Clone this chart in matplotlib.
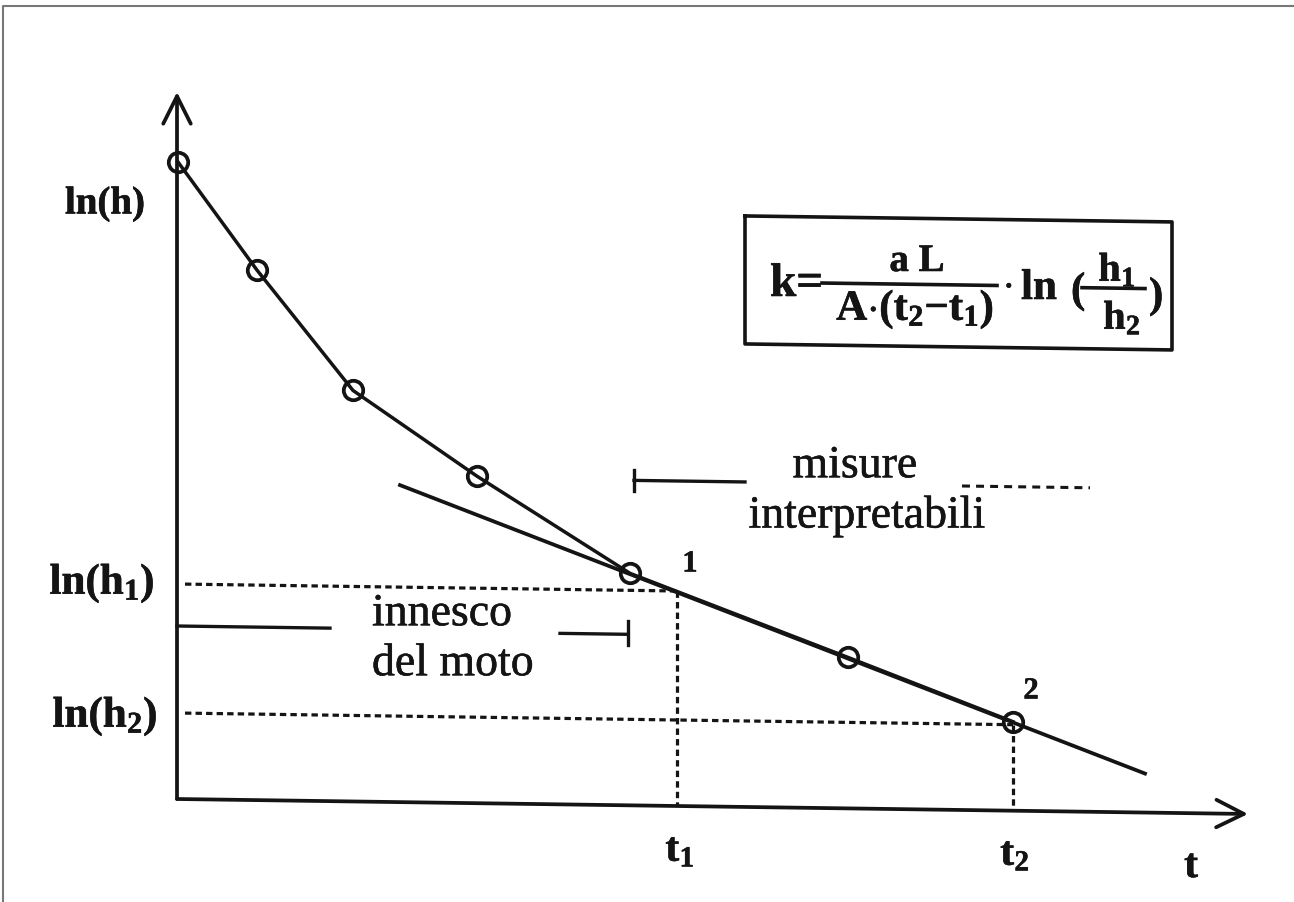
import matplotlib
matplotlib.use('Agg')
import matplotlib.pyplot as plt
import matplotlib.patheffects as pe
from matplotlib.transforms import Affine2D

plt.rcParams['font.family'] = ['Liberation Serif', 'DejaVu Serif']
plt.rcParams['mathtext.fontset'] = 'custom'
plt.rcParams['mathtext.rm'] = 'Liberation Serif'
plt.rcParams['mathtext.it'] = 'Liberation Serif:italic'
plt.rcParams['mathtext.bf'] = 'Liberation Serif:bold'

# misure (t, ln h)
t = [1, 80, 176, 300, 453, 671, 836]
lnh = [637, 530, 411, 327, 232, 151, 89]

# retta interpolante
fit_t = [223, 968]
fit_lnh = [317, 39]

# punti 1 e 2
t1, t2 = 500, 836
lnh1, lnh2 = 215, 86

# intervalli "innesco del moto" e "misure interpretabili"
innesco_left = [0, 153]
innesco_right = [383, 451]
misure_left = [457, 568]
misure_right = [785, 913]

ink = '#141414'
thick = [pe.withStroke(linewidth=0.4, foreground=ink)]

fig = plt.figure(figsize=(12.94, 9.03), dpi=100)
ax = fig.add_axes([0, 0, 1, 1])
ax.set_xlim(-177, 1117)
ax.set_ylim(-103, 800)
ax.axis('off')

# il foglio e' leggermente storto
sk = Affine2D.from_values(1, -0.014, 0, 1, 0, 0) + ax.transData

# assi con freccia
arrow = dict(arrowstyle='->,head_length=0.9,head_width=0.45', lw=2.7,
             color=ink, mutation_scale=22, shrinkA=0, shrinkB=0)
ax.annotate('', xy=(0, 707), xytext=(0, 0), xycoords=sk, textcoords=sk,
            arrowprops=arrow)
ax.annotate('', xy=(1071, 0), xytext=(0, 0), xycoords=sk, textcoords=sk,
            arrowprops=arrow)

# linee tratteggiate
dash = dict(color=ink, lw=2.3, ls=(0, (2.0, 1.3)), transform=sk)
ax.plot([8, t1], [lnh1, lnh1], **dash)
ax.plot([8, t2], [lnh2, lnh2], **dash)
ax.plot([t1, t1], [lnh1, 0], **dash)
ax.plot([t2, t2], [lnh2, 0], **dash)

# retta e misure
ax.plot(fit_t, fit_lnh, color=ink, lw=2.7, transform=sk)
ax.plot(t, lnh, '-o', color=ink, lw=2.5, ms=14, mfc='none', mew=2.7,
        transform=sk)

# intervalli
ax.plot(innesco_left, [173, 173], color=ink, lw=2.4, transform=sk)
ax.plot(innesco_right, [171, 171], color=ink, lw=2.4, transform=sk)
ax.plot([innesco_right[1]] * 2, [160, 184], color=ink, lw=2.4, transform=sk)
ax.plot(misure_left, [325, 325], color=ink, lw=2.4, transform=sk)
ax.plot([misure_left[0]] * 2, [314, 335], color=ink, lw=2.4, transform=sk)
ax.plot(misure_right, [324, 324], color=ink, lw=2.2, ls=(0, (2.6, 2.0)),
        transform=sk)

# riquadro della formula
ax.plot([568, 995, 995, 568, 568], [591, 591, 463, 463, 591], color=ink,
        lw=2.6, transform=sk)
# k = aL / (A (t2 - t1)) * ln(h1 / h2)
ax.plot([645, 820], [525, 525], color=ink, lw=2.6, transform=sk)
ax.plot([905, 968], [524, 524], color=ink, lw=2.6, transform=sk)
bf = dict(color=ink, fontweight='bold', path_effects=thick)
ax.text(593, 503, 'k=', fontsize=34, ha='left', va='baseline', **bf)
ax.text(740, 528, 'a L', fontsize=28, ha='center', va='baseline', **bf)
ax.text(738, 479, r'$\mathbf{A{\cdot}(t_2{-}t_1)}$', fontsize=31,
        ha='center', va='baseline', **bf)
ax.text(826, 503, r'$\mathbf{\cdot}$', fontsize=30, ha='left',
        va='baseline', **bf)
ax.text(844, 500, 'ln', fontsize=31, ha='left', va='baseline', **bf)
ax.text(894, 497, '(', fontsize=31, ha='left', va='baseline', **bf)
ax.text(940, 518, r'$\mathbf{h_1}$', fontsize=29, ha='center',
        va='baseline', **bf)
ax.text(945, 470, r'$\mathbf{h_2}$', fontsize=29, ha='center',
        va='baseline', **bf)
ax.text(972, 492, ')', fontsize=31, ha='left', va='baseline', **bf)

lab = dict(color=ink, fontweight='bold', ha='center', va='center',
           path_effects=thick)
ax.text(-72, 595, 'ln(h)', fontsize=28, **lab)
ax.text(-75, 215, r'$\mathbf{ln(h_1)}$', fontsize=31, **lab)
ax.text(-72, 82, r'$\mathbf{ln(h_2)}$', fontsize=31, **lab)
ax.text(503, -52, r'$\mathbf{t_1}$', fontsize=30, **lab)
ax.text(838, -56, r'$\mathbf{t_2}$', fontsize=30, **lab)
ax.text(1014, -68, 't', fontsize=30, **lab)
ax.text(513, 235, '1', fontsize=22, **lab)
ax.text(854, 108, '2', fontsize=22, **lab)

txt = dict(fontsize=33, color=ink, va='center', path_effects=thick)
ax.text(195, 185, 'innesco', ha='left', **txt)
ax.text(195, 135, 'del moto', ha='left', **txt)
ax.text(678, 333, 'misure', ha='center', **txt)
ax.text(690, 283, 'interpretabili', ha='center', **txt)

# bordo del foglio scansionato
ax.plot([-174, -174, 1117], [-103, 793, 793], color='#777777', lw=1.5)

fig.savefig('out.png', dpi=100)
